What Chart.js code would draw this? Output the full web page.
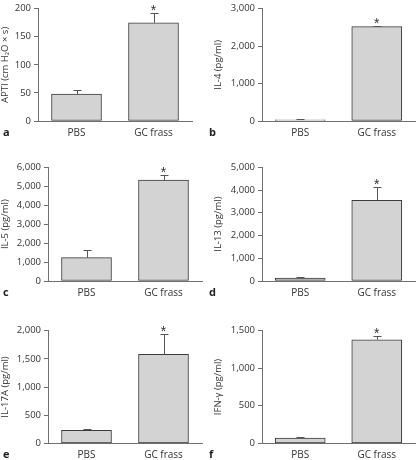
<!DOCTYPE html>
<html>
<head>
<meta charset="utf-8">
<script src="https://cdn.jsdelivr.net/npm/chart.js@4.4.0/dist/chart.umd.min.js"></script>
<style>
html, body { margin: 0; padding: 0; background: #fff; }
#wrap { position: relative; width: 416px; height: 460px; overflow: hidden; }
#wrap canvas { position: absolute; }
</style>
</head>
<body>
<div id="wrap"></div>
<script>
const groups = ['PBS', 'GC frass'];

const aptiMean = [48, 175];
const aptiErr = [7, 17];
const il4Mean = [30, 2520];
const il4Err = [20, 20];
const il5Mean = [1230, 5330];
const il5Err = [390, 240];
const il13Mean = [130, 3550];
const il13Err = [55, 570];
const il17Mean = [230, 1580];
const il17Err = [20, 365];
const ifnMean = [70, 1380];
const ifnErr = [15, 50];

const FONT = '"Open Sans", "Liberation Sans", sans-serif';

// panel layout: canvas box and wanted chart area (local px)
const panels = [
    { letter: 'a', title: 'APTI (cm H\u2082O \u00d7 s)', mean: aptiMean, err: aptiErr, max: 200, step: 50,
      box: [0, 0, 206, 150], area: { left: 38, top: 7, right: 192, bottom: 121 }, padLeft: 0 },
    { letter: 'b', title: 'IL-4 (pg/ml)', mean: il4Mean, err: il4Err, max: 3000, step: 1000,
      box: [206, 0, 210, 150], area: { left: 56, top: 7, right: 209, bottom: 121 }, padLeft: 7 },
    { letter: 'c', title: 'IL-5 (pg/ml)', mean: il5Mean, err: il5Err, max: 6000, step: 1000,
      box: [0, 150, 206, 155], area: { left: 48, top: 17.3, right: 202, bottom: 131 }, padLeft: 0 },
    { letter: 'd', title: 'IL-13 (pg/ml)', mean: il13Mean, err: il13Err, max: 5000, step: 1000,
      box: [206, 150, 210, 155], area: { left: 56, top: 17.3, right: 209, bottom: 131 }, padLeft: 7 },
    { letter: 'e', title: 'IL-17A (pg/ml)', mean: il17Mean, err: il17Err, max: 2000, step: 500,
      box: [0, 305, 206, 155], area: { left: 48, top: 25.7, right: 202, bottom: 138.3 }, padLeft: 0 },
    { letter: 'f', title: 'IFN-\u03b3 (pg/ml)', mean: ifnMean, err: ifnErr, max: 1500, step: 500,
      box: [206, 305, 210, 155], area: { left: 56, top: 25.7, right: 209, bottom: 138.3 }, padLeft: 7 }
];

// one-sided error bars, asterisk over GC frass, panel letter
const errorBarPlugin = {
    id: 'errorBars',
    afterDatasetsDraw(chart, args, opts) {
        const ctx = chart.ctx;
        const y = chart.scales.y;
        const meta = chart.getDatasetMeta(0);
        const mean = chart.data.datasets[0].data;
        ctx.save();
        ctx.strokeStyle = '#555';
        ctx.lineWidth = 1;
        meta.data.forEach((bar, i) => {
            const x = Math.round(bar.x) + 0.5;
            const yBar = y.getPixelForValue(mean[i]);
            const yTop = Math.round(y.getPixelForValue(mean[i] + opts.err[i])) + 0.5;
            ctx.beginPath();
            ctx.moveTo(x, yBar);
            ctx.lineTo(x, yTop);
            ctx.moveTo(x - 4, yTop);
            ctx.lineTo(x + 4, yTop);
            ctx.stroke();
            if (i === 1) {
                ctx.fillStyle = '#333';
                ctx.font = '14px "Liberation Sans", sans-serif';
                ctx.textAlign = 'center';
                ctx.textBaseline = 'alphabetic';
                ctx.fillText('*', bar.x, yTop + 1.5);
            }
        });
        ctx.fillStyle = '#222';
        ctx.font = 'bold 11px ' + FONT;
        ctx.textAlign = 'left';
        ctx.textBaseline = 'middle';
        ctx.fillText(opts.letter, 3, chart.chartArea.bottom + 12);
        ctx.restore();
    }
};

function makePanel(p) {
    const [bx, by, bw, bh] = p.box;
    const canvas = document.createElement('canvas');
    canvas.width = bw;
    canvas.height = bh;
    canvas.style.left = bx + 'px';
    canvas.style.top = by + 'px';
    canvas.style.width = bw + 'px';
    canvas.style.height = bh + 'px';
    document.getElementById('wrap').appendChild(canvas);

    new Chart(canvas.getContext('2d'), {
        type: 'bar',
        data: {
            labels: groups,
            datasets: [{
                data: p.mean,
                backgroundColor: '#d3d3d3',
                borderColor: '#3c3c3c',
                borderWidth: 1,
                borderSkipped: false,
                barThickness: 50
            }]
        },
        options: {
            responsive: false,
            animation: false,
            devicePixelRatio: 1,
            layout: { padding: { left: p.padLeft, top: p.area.top, right: bw - p.area.right, bottom: 0 } },
            plugins: {
                legend: { display: false },
                tooltip: { enabled: false },
                errorBars: { err: p.err, letter: p.letter }
            },
            scales: {
                x: {
                    offset: true,
                    grid: { display: true, drawOnChartArea: false, drawTicks: false },
                    border: { display: true, color: '#707070', width: 1 },
                    ticks: { color: '#333', padding: 6, font: { family: FONT, size: 10 } },
                    afterFit: (s) => { s.height = bh - p.area.bottom; }
                },
                y: {
                    min: 0,
                    max: p.max,
                    grid: { display: true, drawOnChartArea: false, drawTicks: true, tickLength: 4, color: '#707070' },
                    border: { display: true, color: '#707070', width: 1 },
                    ticks: {
                        stepSize: p.step,
                        padding: 3,
                        color: '#333',
                        font: { family: FONT, size: 9.5 },
                        callback: (v) => Number(v).toLocaleString('en-US')
                    },
                    title: {
                        display: true,
                        text: p.title,
                        color: '#333',
                        padding: { top: 0, bottom: 0 },
                        font: { family: FONT, size: 9.5 }
                    },
                    afterFit: (s) => { s.width = p.area.left - p.padLeft; }
                }
            }
        },
        plugins: [errorBarPlugin]
    });
}

panels.forEach(makePanel);
</script>
</body>
</html>
